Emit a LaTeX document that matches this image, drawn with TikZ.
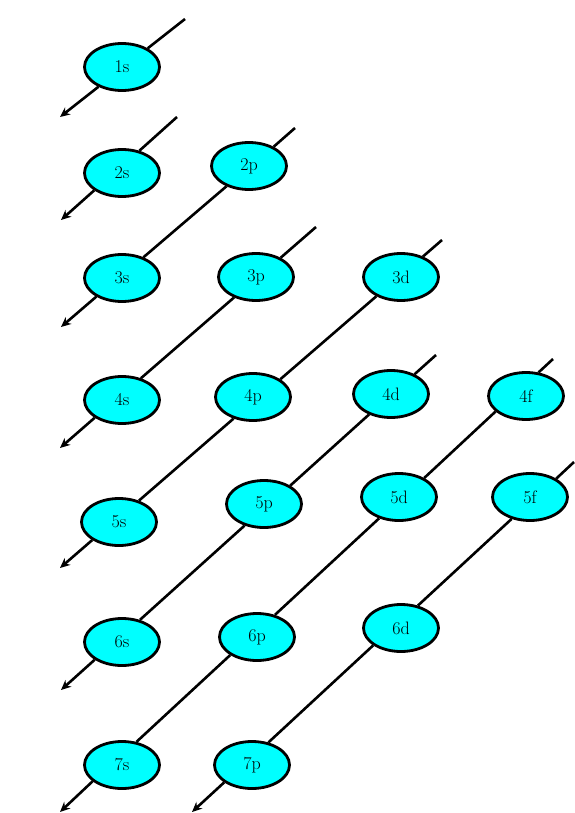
\documentclass[tikz,border=0pt]{standalone}
\usepackage{fontspec}
\usetikzlibrary{shapes.geometric,arrows.meta}
\definecolor{orbcyan}{RGB}{0,255,255}
\begin{document}
\begin{tikzpicture}[x=1pt,y=-1pt,
		orb/.style={ellipse,draw=black,fill=orbcyan,line width=2.8pt,inner sep=0pt,
			minimum width=75pt,minimum height=47pt,font=\fontsize{18}{20}\selectfont},
		diag/.style={line width=2.6pt,-{Stealth[length=10pt,width=9pt]}}]
		\useasboundingbox (0,0) rectangle (574,813);
		
		% 各轨道
		\node[orb] (1s) at (122,67) {1s};
		\node[orb] (2s) at (122,173) {2s};
		\node[orb] (2p) at (249,166) {2p};
		\node[orb] (3s) at (122,278) {3s};
		\node[orb] (3p) at (256,277) {3p};
		\node[orb] (3d) at (401,277) {3d};
		\node[orb] (4s) at (122,400) {4s};
		\node[orb] (4p) at (253,397) {4p};
		\node[orb] (4d) at (391,394) {4d};
		\node[orb] (4f) at (526,396) {4f};
		\node[orb] (5s) at (119,522) {5s};
		\node[orb] (5p) at (264,504) {5p};
		\node[orb] (5d) at (399,497) {5d};
		\node[orb] (5f) at (530,497) {5f};
		\node[orb] (6s) at (122,642) {6s};
		\node[orb] (6p) at (257,637) {6p};
		\node[orb] (6d) at (401,628) {6d};
		\node[orb] (7s) at (122,765) {7s};
		\node[orb] (7p) at (252,765) {7p};
		
		% 斜线的起点与终点
		\coordinate (t1) at (185,19);  \coordinate (e1) at (60,117);
		\coordinate (t2) at (177,117); \coordinate (e2) at (61,220);
		\coordinate (t3) at (295,128); \coordinate (e3) at (61,327);
		\coordinate (t4) at (316,227); \coordinate (e4) at (60,448);
		\coordinate (t5) at (442,240); \coordinate (e5) at (60,568);
		\coordinate (t6) at (436,355); \coordinate (e6) at (61,690);
		\coordinate (t7) at (553,359); \coordinate (e7) at (60,812);
		\coordinate (t8) at (574,462); \coordinate (e8) at (192,812);
		
		% 填充顺序的斜线（从椭圆边上穿过）
		\draw[diag] (t1) -- (1s.36.1) (1s.220.2) -- (e1);
		\draw[diag] (t2) -- (2s.52.5) (2s.212.2) -- (e2);
		\draw[diag] (t3) -- (2p.38.8) (2p.222.0) -- (3s.44.6) (3s.216.4) -- (e3);
		\draw[diag] (t4) -- (3p.38.3) (3p.223.4) -- (4s.49.1) (4s.213.4) -- (e4);
		\draw[diag] (t5) -- (3d.43.2) (3d.218.2) -- (4p.33.6) (4p.228.6) -- (5s.47.6)
			(5s.214.4) -- (e5);
		\draw[diag] (t6) -- (4d.40.1) (4d.223.5) -- (5p.35.6) (5p.228.6) -- (6s.51.6)
			(6s.213.2) -- (e6);
		\draw[diag] (t7) -- (4f.62.2) (4f.207.3) -- (5d.37.9) (5d.227.6) -- (6p.51.5)
			(6p.214.7) -- (7s.58.2) (7s.209.9) -- (e7);
		\draw[diag] (t8) -- (5f.35.5) (5f.230.3) -- (6d.53.9) (6d.212.8) -- (7p.54.6)
			(7p.212.2) -- (e8);
	\end{tikzpicture}
\end{document}
